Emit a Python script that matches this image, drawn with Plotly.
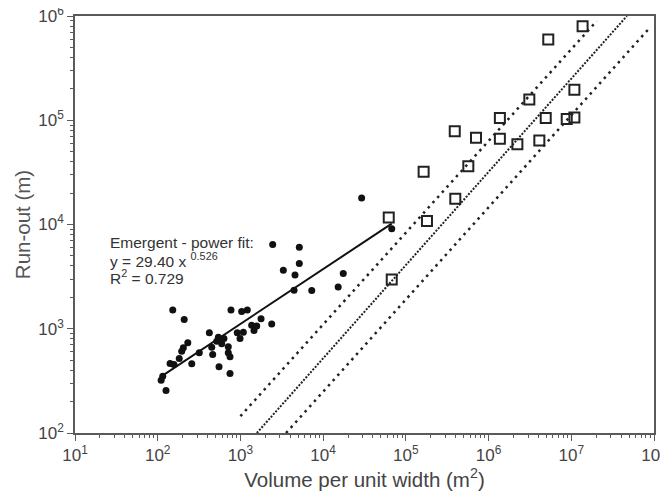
import plotly.graph_objects as go

# Emergent (dots)
emergent_x = [2.92e4, 6.75e4, 2455, 5150, 5150, 3300, 4570, 1.75e4, 1.52e4, 4450, 7280,
              152, 769, 1211, 1035, 209, 1775, 2388, 1368, 1574, 1459, 421, 916, 1084,
              541, 632, 989, 566, 517, 231, 594, 450, 713, 204, 195, 318, 462, 713, 748,
              182, 141, 157, 258, 551, 748, 115, 110, 126]
emergent_y = [1.80e4, 9.10e3, 6.43e3, 6.05e3, 4.22e3, 3.65e3, 3.27e3, 3.39e3, 2.52e3, 2.34e3, 2.33e3,
              1510, 1510, 1510, 1460, 1230, 1250, 1110, 1080, 1060, 962, 914, 914, 927,
              830, 806, 806, 771, 760, 733, 717, 665, 671, 656, 609, 588, 566, 588, 538,
              519, 464, 454, 461, 431, 372, 351, 321, 256]

# Open squares
square_x = [1.37e7, 5.27e6, 1.09e7, 3.11e6, 1.37e6, 4.91e6, 8.81e6, 1.09e7, 3.90e5, 7.05e5,
            1.37e6, 2.23e6, 4.11e6, 5.69e5, 1.64e5, 3.96e5, 6.21e4, 1.80e5, 6.75e4]
square_y = [7.98e5, 5.96e5, 1.96e5, 1.58e5, 1.05e5, 1.05e5, 1.03e5, 1.06e5, 7.85e4, 6.79e4,
            6.64e4, 5.89e4, 6.40e4, 3.62e4, 3.21e4, 1.77e4, 1.17e4, 1.08e4, 2.97e3]

# Power fit y = a x^b
fit_a = 29.40
fit_b = 0.526
fit_x = [112, 67500]
fit_y = [fit_a * v ** fit_b for v in fit_x]

# Dotted reference lines (endpoints)
mid_x = [1580, 4.7e7]
mid_y = [100, 1.0e6]
upper_x = [1000, 2.03e7]
upper_y = [145, 8.95e5]
lower_x = [3560, 8.55e7]
lower_y = [100, 7.46e5]

x_tickvals = [10 ** k for k in range(1, 9)]
x_ticktext = ["10<sup>%d</sup>" % k for k in range(1, 9)]
y_tickvals = [10 ** k for k in range(2, 7)]
y_ticktext = ["10<sup>%d</sup>" % k for k in range(2, 7)]
x_minor = [m * 10 ** k for k in range(1, 8) for m in range(2, 10)]
y_minor = [m * 10 ** k for k in range(2, 6) for m in range(2, 10)]

annot_lines = ["Emergent - power fit:",
               "y = 29.40 x <sup>0.526</sup>",
               "R<sup>2</sup> = 0.729"]
annot_y = [0.4568, 0.4137, 0.3733]

FONT = "Liberation Sans, Arial, Helvetica, sans-serif"
AXIS_COLOR = "#5a5a5a"

fig = go.Figure()

fig.add_trace(go.Scatter(x=upper_x, y=upper_y, mode="lines",
                         line=dict(color="#222", width=2.5, dash="2.5px,4.5px"),
                         showlegend=False, hoverinfo="skip"))
fig.add_trace(go.Scatter(x=lower_x, y=lower_y, mode="lines",
                         line=dict(color="#222", width=2.5, dash="2.5px,4.5px"),
                         showlegend=False, hoverinfo="skip"))
fig.add_trace(go.Scatter(x=mid_x, y=mid_y, mode="lines",
                         line=dict(color="#222", width=2, dash="2px,1.5px"),
                         showlegend=False, hoverinfo="skip"))
fig.add_trace(go.Scatter(x=fit_x, y=fit_y, mode="lines",
                         line=dict(color="#111", width=2),
                         showlegend=False))
fig.add_trace(go.Scatter(x=emergent_x, y=emergent_y, mode="markers",
                         marker=dict(symbol="circle", size=7, color="#111"),
                         showlegend=False))
fig.add_trace(go.Scatter(x=square_x, y=square_y, mode="markers",
                         marker=dict(symbol="square-open", size=10, color="#222",
                                     line=dict(width=2, color="#222")),
                         showlegend=False))

for txt, yy in zip(annot_lines, annot_y):
    fig.add_annotation(x=0.057, y=yy, xref="paper", yref="paper", showarrow=False,
                       text=txt, xanchor="left", yanchor="middle", align="left",
                       font=dict(family=FONT, size=15.5, color="#333"))

axis_common = dict(type="log", showgrid=False, zeroline=False, showline=True,
                   linecolor=AXIS_COLOR, linewidth=1.5, mirror=True, automargin=False,
                   ticks="outside", ticklen=6, tickwidth=1.2, tickcolor=AXIS_COLOR,
                   ticklabeloverflow="allow",
                   tickfont=dict(family=FONT, size=17, color="#444"))

fig.update_xaxes(range=[1, 8], tickmode="array", tickvals=x_tickvals, ticktext=x_ticktext,
                 minor=dict(tickmode="array", tickvals=x_minor, ticks="outside",
                            ticklen=3.5, tickwidth=1, tickcolor=AXIS_COLOR, showgrid=False),
                 title=dict(text="Volume per unit width (m<sup>2</sup>)", standoff=8,
                            font=dict(family=FONT, size=20.5, color="#444")),
                 **axis_common)
fig.update_yaxes(range=[2, 6], tickmode="array", tickvals=y_tickvals, ticktext=y_ticktext,
                 minor=dict(tickmode="array", tickvals=y_minor, ticks="outside",
                            ticklen=3.5, tickwidth=1, tickcolor=AXIS_COLOR, showgrid=False),
                 title=dict(text="Run-out (m)", standoff=2,
                            font=dict(family=FONT, size=20.5, color="#555")),
                 **axis_common)

# page body has an 8px default margin, so the figure is offset by 8px
fig.update_layout(width=660, height=490, margin=dict(l=67, r=14, t=8, b=65),
                  plot_bgcolor="white", paper_bgcolor="white",
                  font=dict(family=FONT))

fig.write_html("out.html")
